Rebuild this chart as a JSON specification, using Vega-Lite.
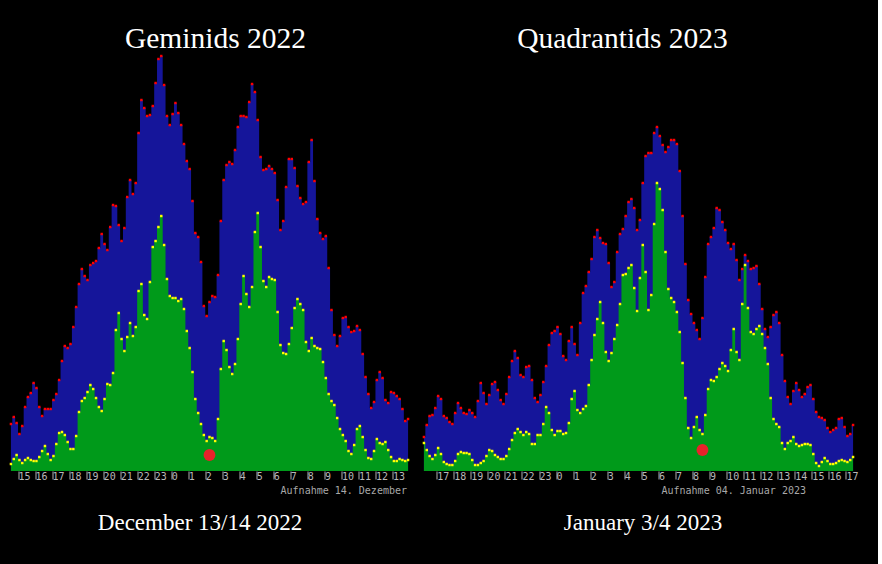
{
  "$schema": "https://vega.github.io/schema/vega-lite/v6.json",
  "background": "black",
  "padding": {"left": 9.5, "top": 23, "right": 19, "bottom": 30},
  "spacing": 13,
  "config": {
    "view": {"stroke": null},
    "axis": {
      "domain": false,
      "grid": false,
      "tickSize": 8,
      "tickColor": "#b0b0b0",
      "labelColor": "#b8b8b8",
      "labelFont": "DejaVu Sans Mono",
      "labelFontSize": 10,
      "labelAlign": "left",
      "labelBaseline": "top",
      "labelPadding": -8,
      "labelDx": 2,
      "labelOverlap": false,
      "labelFlush": false,
      "titleFontWeight": "normal",
      "titleBaseline": "alphabetic"
    },
    "title": {"font": "Liberation Serif", "color": "white", "fontWeight": "normal", "anchor": "middle", "frame": "group", "baseline": "alphabetic"}
  },
  "datasets": {
    "gem": [
      {"m":875,"all":47,"sub":7},{"m":885,"all":54,"sub":12},{"m":895,"all":48,"sub":16},{"m":905,"all":37,"sub":11},{"m":915,"all":45,"sub":8},{"m":925,"all":64,"sub":11},{"m":935,"all":74,"sub":13},{"m":945,"all":78,"sub":11},{"m":955,"all":88,"sub":10},{"m":965,"all":83,"sub":10},
      {"m":975,"all":64,"sub":14},{"m":985,"all":55,"sub":20},{"m":995,"all":62,"sub":25},{"m":1005,"all":62,"sub":17},{"m":1015,"all":62,"sub":11},{"m":1025,"all":71,"sub":15},{"m":1035,"all":77,"sub":27},{"m":1045,"all":91,"sub":38},{"m":1055,"all":110,"sub":39},{"m":1065,"all":125,"sub":36},
      {"m":1075,"all":123,"sub":29},{"m":1085,"all":127,"sub":22},{"m":1095,"all":144,"sub":22},{"m":1105,"all":164,"sub":35},{"m":1115,"all":187,"sub":59},{"m":1125,"all":202,"sub":70},{"m":1135,"all":195,"sub":73},{"m":1145,"all":191,"sub":79},{"m":1155,"all":206,"sub":86},{"m":1165,"all":208,"sub":82},
      {"m":1175,"all":210,"sub":73},{"m":1185,"all":223,"sub":64},{"m":1195,"all":237,"sub":60},{"m":1205,"all":227,"sub":72},{"m":1215,"all":221,"sub":87},{"m":1225,"all":244,"sub":86},{"m":1235,"all":266,"sub":98},{"m":1245,"all":265,"sub":141},{"m":1255,"all":246,"sub":158},{"m":1265,"all":230,"sub":132},
      {"m":1275,"all":243,"sub":120},{"m":1285,"all":274,"sub":134},{"m":1295,"all":291,"sub":148},{"m":1305,"all":277,"sub":135},{"m":1315,"all":288,"sub":144},{"m":1325,"all":338,"sub":180},{"m":1335,"all":371,"sub":187},{"m":1345,"all":363,"sub":156},{"m":1355,"all":355,"sub":152},{"m":1365,"all":356,"sub":189},
      {"m":1375,"all":365,"sub":224},{"m":1385,"all":388,"sub":230},{"m":1395,"all":412,"sub":244},{"m":1405,"all":415,"sub":255},{"m":1415,"all":386,"sub":226},{"m":1425,"all":355,"sub":192},{"m":1435,"all":346,"sub":175},{"m":1445,"all":357,"sub":173},{"m":1455,"all":368,"sub":173},{"m":1465,"all":358,"sub":170},
      {"m":1475,"all":346,"sub":172},{"m":1485,"all":327,"sub":162},{"m":1495,"all":310,"sub":140},{"m":1505,"all":302,"sub":123},{"m":1515,"all":270,"sub":99},{"m":1525,"all":238,"sub":72},{"m":1535,"all":234,"sub":58},{"m":1545,"all":209,"sub":47},{"m":1555,"all":165,"sub":36},{"m":1565,"all":155,"sub":30},
      {"m":1575,"all":169,"sub":34},{"m":1585,"all":175,"sub":33},{"m":1595,"all":174,"sub":30},{"m":1605,"all":196,"sub":52},{"m":1615,"all":250,"sub":102},{"m":1625,"all":291,"sub":130},{"m":1635,"all":306,"sub":121},{"m":1645,"all":309,"sub":104},{"m":1655,"all":307,"sub":97},{"m":1665,"all":321,"sub":107},
      {"m":1675,"all":344,"sub":132},{"m":1685,"all":355,"sub":167},{"m":1695,"all":355,"sub":195},{"m":1705,"all":354,"sub":177},{"m":1715,"all":369,"sub":164},{"m":1725,"all":387,"sub":184},{"m":1735,"all":379,"sub":239},{"m":1745,"all":351,"sub":258},{"m":1755,"all":314,"sub":224},{"m":1765,"all":301,"sub":190},
      {"m":1775,"all":302,"sub":184},{"m":1785,"all":305,"sub":194},{"m":1795,"all":302,"sub":192},{"m":1805,"all":298,"sub":191},{"m":1815,"all":271,"sub":159},{"m":1825,"all":241,"sub":126},{"m":1835,"all":250,"sub":118},{"m":1845,"all":284,"sub":117},{"m":1855,"all":312,"sub":127},{"m":1865,"all":312,"sub":143},
      {"m":1875,"all":303,"sub":163},{"m":1885,"all":285,"sub":172},{"m":1895,"all":273,"sub":167},{"m":1905,"all":267,"sub":161},{"m":1915,"all":269,"sub":129},{"m":1925,"all":309,"sub":120},{"m":1935,"all":331,"sub":133},{"m":1945,"all":290,"sub":125},{"m":1955,"all":252,"sub":123},{"m":1965,"all":238,"sub":122},
      {"m":1975,"all":232,"sub":109},{"m":1985,"all":235,"sub":93},{"m":1995,"all":203,"sub":77},{"m":2005,"all":161,"sub":70},{"m":2015,"all":136,"sub":66},{"m":2025,"all":125,"sub":53},{"m":2035,"all":135,"sub":42},{"m":2045,"all":153,"sub":36},{"m":2055,"all":154,"sub":30},{"m":2065,"all":144,"sub":20},
      {"m":2075,"all":139,"sub":17},{"m":2085,"all":140,"sub":26},{"m":2095,"all":145,"sub":42},{"m":2105,"all":141,"sub":45},{"m":2115,"all":117,"sub":34},{"m":2125,"all":94,"sub":21},{"m":2135,"all":77,"sub":13},{"m":2145,"all":63,"sub":12},{"m":2155,"all":69,"sub":20},{"m":2165,"all":91,"sub":32},
      {"m":2175,"all":99,"sub":28},{"m":2185,"all":93,"sub":27},{"m":2195,"all":71,"sub":29},{"m":2205,"all":68,"sub":21},{"m":2215,"all":79,"sub":14},{"m":2225,"all":78,"sub":10},{"m":2235,"all":75,"sub":10},{"m":2245,"all":72,"sub":12},{"m":2255,"all":62,"sub":11},{"m":2265,"all":50,"sub":10},
      {"m":2275,"all":52,"sub":11}
    ],
    "quad": [
      {"m":975,"all":34,"sub":28},{"m":985,"all":46,"sub":21},{"m":995,"all":55,"sub":15},{"m":1005,"all":56,"sub":12},{"m":1015,"all":63,"sub":16},{"m":1025,"all":75,"sub":23},{"m":1035,"all":72,"sub":17},{"m":1045,"all":55,"sub":9},{"m":1055,"all":53,"sub":7},{"m":1065,"all":49,"sub":6},
      {"m":1075,"all":47,"sub":6},{"m":1085,"all":58,"sub":10},{"m":1095,"all":68,"sub":17},{"m":1105,"all":63,"sub":19},{"m":1115,"all":58,"sub":18},{"m":1125,"all":57,"sub":18},{"m":1135,"all":61,"sub":17},{"m":1145,"all":58,"sub":11},{"m":1155,"all":54,"sub":6},{"m":1165,"all":70,"sub":6},
      {"m":1175,"all":88,"sub":8},{"m":1185,"all":78,"sub":10},{"m":1195,"all":67,"sub":15},{"m":1205,"all":76,"sub":21},{"m":1215,"all":87,"sub":20},{"m":1225,"all":89,"sub":16},{"m":1235,"all":81,"sub":14},{"m":1245,"all":71,"sub":12},{"m":1255,"all":67,"sub":12},{"m":1265,"all":77,"sub":15},
      {"m":1275,"all":94,"sub":22},{"m":1285,"all":110,"sub":31},{"m":1295,"all":120,"sub":38},{"m":1305,"all":113,"sub":42},{"m":1315,"all":96,"sub":39},{"m":1325,"all":94,"sub":36},{"m":1335,"all":104,"sub":39},{"m":1345,"all":105,"sub":37},{"m":1355,"all":91,"sub":27},{"m":1365,"all":73,"sub":27},
      {"m":1375,"all":69,"sub":36},{"m":1385,"all":76,"sub":36},{"m":1395,"all":89,"sub":47},{"m":1405,"all":105,"sub":64},{"m":1415,"all":126,"sub":58},{"m":1425,"all":138,"sub":41},{"m":1435,"all":140,"sub":36},{"m":1445,"all":144,"sub":40},{"m":1455,"all":137,"sub":40},{"m":1465,"all":115,"sub":37},
      {"m":1475,"all":111,"sub":38},{"m":1485,"all":130,"sub":48},{"m":1495,"all":144,"sub":72},{"m":1505,"all":127,"sub":80},{"m":1515,"all":116,"sub":61},{"m":1525,"all":148,"sub":58},{"m":1535,"all":178,"sub":62},{"m":1545,"all":185,"sub":65},{"m":1555,"all":199,"sub":86},{"m":1565,"all":212,"sub":111},
      {"m":1575,"all":234,"sub":136},{"m":1585,"all":241,"sub":152},{"m":1595,"all":233,"sub":169},{"m":1605,"all":228,"sub":148},{"m":1615,"all":227,"sub":119},{"m":1625,"all":208,"sub":110},{"m":1635,"all":184,"sub":118},{"m":1645,"all":189,"sub":132},{"m":1655,"all":219,"sub":146},{"m":1665,"all":237,"sub":167},
      {"m":1675,"all":242,"sub":196},{"m":1685,"all":255,"sub":197},{"m":1695,"all":269,"sub":203},{"m":1705,"all":272,"sub":206},{"m":1715,"all":263,"sub":183},{"m":1725,"all":241,"sub":160},{"m":1735,"all":251,"sub":193},{"m":1745,"all":288,"sub":226},{"m":1755,"all":315,"sub":199},{"m":1765,"all":318,"sub":161},
      {"m":1775,"all":318,"sub":176},{"m":1785,"all":338,"sub":247},{"m":1795,"all":344,"sub":288},{"m":1805,"all":335,"sub":282},{"m":1815,"all":326,"sub":261},{"m":1825,"all":319,"sub":219},{"m":1835,"all":324,"sub":182},{"m":1845,"all":331,"sub":173},{"m":1855,"all":331,"sub":169},{"m":1865,"all":327,"sub":159},
      {"m":1875,"all":300,"sub":139},{"m":1885,"all":255,"sub":108},{"m":1895,"all":207,"sub":73},{"m":1905,"all":171,"sub":43},{"m":1915,"all":157,"sub":33},{"m":1925,"all":148,"sub":44},{"m":1935,"all":141,"sub":54},{"m":1945,"all":132,"sub":41},{"m":1955,"all":153,"sub":37},{"m":1965,"all":194,"sub":56},
      {"m":1975,"all":227,"sub":82},{"m":1985,"all":234,"sub":91},{"m":1995,"all":243,"sub":90},{"m":2005,"all":263,"sub":94},{"m":2015,"all":261,"sub":102},{"m":2025,"all":249,"sub":108},{"m":2035,"all":241,"sub":105},{"m":2045,"all":228,"sub":100},{"m":2055,"all":222,"sub":121},{"m":2065,"all":227,"sub":142},
      {"m":2075,"all":211,"sub":119},{"m":2085,"all":191,"sub":111},{"m":2095,"all":202,"sub":167},{"m":2105,"all":216,"sub":206},{"m":2115,"all":210,"sub":163},{"m":2125,"all":202,"sub":139},{"m":2135,"all":203,"sub":137},{"m":2145,"all":205,"sub":142},{"m":2155,"all":187,"sub":145},{"m":2165,"all":162,"sub":137},
      {"m":2175,"all":142,"sub":123},{"m":2185,"all":134,"sub":107},{"m":2195,"all":144,"sub":73},{"m":2205,"all":156,"sub":52},{"m":2215,"all":159,"sub":47},{"m":2225,"all":148,"sub":44},{"m":2235,"all":116,"sub":28},{"m":2245,"all":90,"sub":22},{"m":2255,"all":74,"sub":28},{"m":2265,"all":67,"sub":30},
      {"m":2275,"all":80,"sub":34},{"m":2285,"all":88,"sub":27},{"m":2295,"all":81,"sub":25},{"m":2305,"all":74,"sub":26},{"m":2315,"all":77,"sub":27},{"m":2325,"all":84,"sub":27},{"m":2335,"all":86,"sub":26},{"m":2345,"all":72,"sub":17},{"m":2355,"all":59,"sub":8},{"m":2365,"all":54,"sub":5},
      {"m":2375,"all":53,"sub":9},{"m":2385,"all":51,"sub":13},{"m":2395,"all":43,"sub":10},{"m":2405,"all":39,"sub":7},{"m":2415,"all":41,"sub":7},{"m":2425,"all":43,"sub":8},{"m":2435,"all":52,"sub":10},{"m":2445,"all":53,"sub":11},{"m":2455,"all":44,"sub":10},{"m":2465,"all":35,"sub":9},
      {"m":2475,"all":37,"sub":11},{"m":2485,"all":46,"sub":14}
    ]
  },
  "hconcat": [
    {
      "width": 400,
      "height": 421,
      "title": {"text": "Geminids 2022", "fontSize": 29.5, "dx": 6, "offset": -4},
      "data": {"name": "gem"},
      "resolve": {"axis": {"x": "independent"}},
      "layer": [
        {
          "mark": {"type": "area", "interpolate": "step", "color": "#15159a"},
          "encoding": {
            "x": {
              "field": "m",
              "type": "quantitative",
              "scale": {"domain": [870, 2280], "nice": false},
              "axis": {
                "orient": "bottom",
                "values": [900, 960, 1020, 1080, 1140, 1200, 1260, 1320, 1380, 1440, 1500, 1560, 1620, 1680, 1740, 1800, 1860, 1920, 1980, 2040, 2100, 2160, 2220],
                "labelExpr": "floor(datum.value / 60) % 24",
                "title": "Aufnahme 14. Dezember",
                "titleFont": "DejaVu Sans Mono",
                "titleFontSize": 10,
                "titleColor": "#a8a8a8",
                "titleAlign": "right",
                "titleX": 397,
                "titleY": 22
              }
            },
            "y": {"field": "all", "type": "quantitative", "scale": {"domain": [0, 421], "nice": false}, "axis": null}
          }
        },
        {
          "mark": {"type": "area", "interpolate": "step", "color": "#009a1a"},
          "encoding": {
            "x": {
              "field": "m",
              "type": "quantitative",
              "axis": {
                "orient": "bottom",
                "labels": false,
                "ticks": false,
                "title": "December 13/14 2022",
                "titleFont": "Liberation Serif",
                "titleFontSize": 23,
                "titleColor": "white",
                "titleAlign": "center",
                "titleX": 190,
                "titleY": 58
              }
            },
            "y": {"field": "sub", "type": "quantitative", "axis": null}
          }
        },
        {
          "mark": {"type": "square", "size": 6, "color": "#ff0000", "opacity": 1},
          "encoding": {
            "x": {"field": "m", "type": "quantitative", "axis": null},
            "y": {"field": "all", "type": "quantitative", "axis": null}
          }
        },
        {
          "mark": {"type": "square", "size": 6, "color": "#ffff00", "opacity": 1},
          "encoding": {
            "x": {"field": "m", "type": "quantitative", "axis": null},
            "y": {"field": "sub", "type": "quantitative", "axis": null}
          }
        },
        {
          "data": {"values": [{"m": 1575, "v": 16}]},
          "mark": {"type": "circle", "size": 140, "color": "#e8222a", "opacity": 1},
          "encoding": {
            "x": {"field": "m", "type": "quantitative", "axis": null},
            "y": {"field": "v", "type": "quantitative", "axis": null}
          }
        }
      ]
    },
    {
      "width": 432,
      "height": 421,
      "title": {"text": "Quadrantids 2023", "fontSize": 29.5, "dx": -16, "offset": -4},
      "data": {"name": "quad"},
      "resolve": {"axis": {"x": "independent"}},
      "layer": [
        {
          "mark": {"type": "area", "interpolate": "step", "color": "#15159a"},
          "encoding": {
            "x": {
              "field": "m",
              "type": "quantitative",
              "scale": {"domain": [970, 2490], "nice": false},
              "axis": {
                "orient": "bottom",
                "values": [960, 1020, 1080, 1140, 1200, 1260, 1320, 1380, 1440, 1500, 1560, 1620, 1680, 1740, 1800, 1860, 1920, 1980, 2040, 2100, 2160, 2220, 2280, 2340, 2400, 2460],
                "labelExpr": "floor(datum.value / 60) % 24",
                "title": "Aufnahme 04. Januar 2023",
                "titleFont": "DejaVu Sans Mono",
                "titleFontSize": 10,
                "titleColor": "#a8a8a8",
                "titleAlign": "right",
                "titleX": 383,
                "titleY": 22
              }
            },
            "y": {"field": "all", "type": "quantitative", "scale": {"domain": [0, 421], "nice": false}, "axis": null}
          }
        },
        {
          "mark": {"type": "area", "interpolate": "step", "color": "#009a1a"},
          "encoding": {
            "x": {
              "field": "m",
              "type": "quantitative",
              "axis": {
                "orient": "bottom",
                "labels": false,
                "ticks": false,
                "title": "January 3/4 2023",
                "titleFont": "Liberation Serif",
                "titleFontSize": 23,
                "titleColor": "white",
                "titleAlign": "center",
                "titleX": 220,
                "titleY": 58
              }
            },
            "y": {"field": "sub", "type": "quantitative", "axis": null}
          }
        },
        {
          "mark": {"type": "square", "size": 6, "color": "#ff0000", "opacity": 1},
          "encoding": {
            "x": {"field": "m", "type": "quantitative", "axis": null},
            "y": {"field": "all", "type": "quantitative", "axis": null}
          }
        },
        {
          "mark": {"type": "square", "size": 6, "color": "#ffff00", "opacity": 1},
          "encoding": {
            "x": {"field": "m", "type": "quantitative", "axis": null},
            "y": {"field": "sub", "type": "quantitative", "axis": null}
          }
        },
        {
          "data": {"values": [{"m": 1955, "v": 21}]},
          "mark": {"type": "circle", "size": 140, "color": "#e8222a", "opacity": 1},
          "encoding": {
            "x": {"field": "m", "type": "quantitative", "axis": null},
            "y": {"field": "v", "type": "quantitative", "axis": null}
          }
        }
      ]
    }
  ]
}
